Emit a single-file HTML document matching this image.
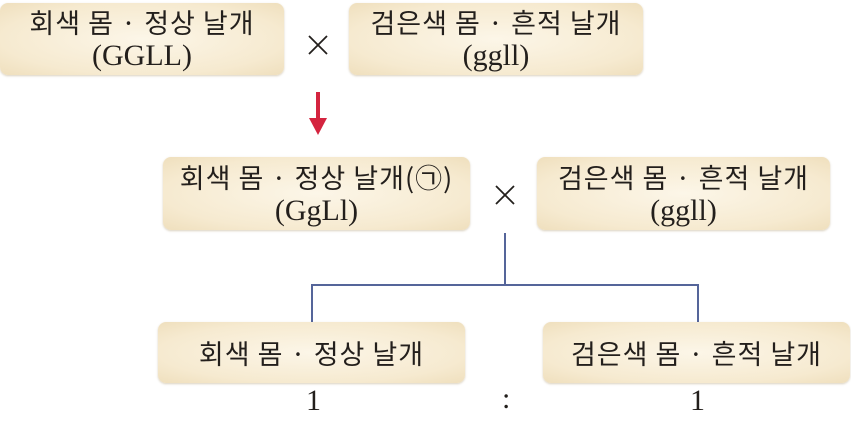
<!DOCTYPE html>
<html><head><meta charset="utf-8"><style>
html,body{margin:0;padding:0;background:#fff;width:851px;height:426px;overflow:hidden;position:relative}
.b{position:absolute;box-sizing:border-box;border-radius:8px;background:radial-gradient(ellipse at center,#fcf6e8 0%,#f6ead0 70%,#efdfbd 100%);box-shadow:0 1px 2px rgba(150,120,70,.35);display:flex;flex-direction:column;align-items:center;justify-content:center;color:#231f1c;font-family:"Noto Sans CJK KR","NanumGothic",sans-serif;font-size:27px;line-height:34px;letter-spacing:1px}
.t{position:absolute;font-family:"Liberation Serif",serif;font-size:30px;color:#231f1c}
.l{position:absolute;background:#55659a}
</style></head><body>
<div class="b" style="left:0;top:3px;width:284px;height:72px"><div>회색 몸 · 정상 날개</div><div style="font-family:'Liberation Serif',serif;font-size:30px;letter-spacing:0">(GGLL)</div></div>
<svg style="position:absolute;left:0;top:0" width="851" height="426"><g stroke="#231f1c" stroke-width="1.8"><line x1="309" y1="36" x2="327" y2="54"/><line x1="327" y1="36" x2="309" y2="54"/><line x1="496" y1="186" x2="514" y2="204"/><line x1="514" y1="186" x2="496" y2="204"/></g></svg>
<div class="b" style="left:349px;top:3px;width:294px;height:72px"><div>검은색 몸 · 흔적 날개</div><div style="font-family:'Liberation Serif',serif;font-size:30px;letter-spacing:0">(ggll)</div></div>
<div style="position:absolute;left:316px;top:92px;width:4px;height:30px;background:#d4243f"></div>
<div style="position:absolute;left:309px;top:118px;width:0;height:0;border-left:9px solid transparent;border-right:9px solid transparent;border-top:17px solid #d4243f"></div>
<div class="b" style="left:163px;top:157px;width:307px;height:73px"><div>회색 몸 · 정상 날개(㉠)</div><div style="font-family:'Liberation Serif',serif;font-size:30px;letter-spacing:0">(GgLl)</div></div>
<div class="b" style="left:537px;top:157px;width:293px;height:73px"><div>검은색 몸 · 흔적 날개</div><div style="font-family:'Liberation Serif',serif;font-size:30px;letter-spacing:0">(ggll)</div></div>
<div class="l" style="left:504px;top:233px;width:2px;height:52px"></div>
<div class="l" style="left:311px;top:284px;width:388px;height:2px"></div>
<div class="l" style="left:311px;top:284px;width:2px;height:38px"></div>
<div class="l" style="left:697px;top:284px;width:2px;height:38px"></div>
<div class="b" style="left:158px;top:322px;width:307px;height:61px"><div>회색 몸 · 정상 날개</div></div>
<div class="b" style="left:543px;top:322px;width:307px;height:61px"><div>검은색 몸 · 흔적 날개</div></div>
<div class="t" style="left:306px;top:384px">1</div>
<div class="t" style="left:502px;top:382px">:</div>
<div class="t" style="left:690px;top:384px">1</div>
</body></html>
